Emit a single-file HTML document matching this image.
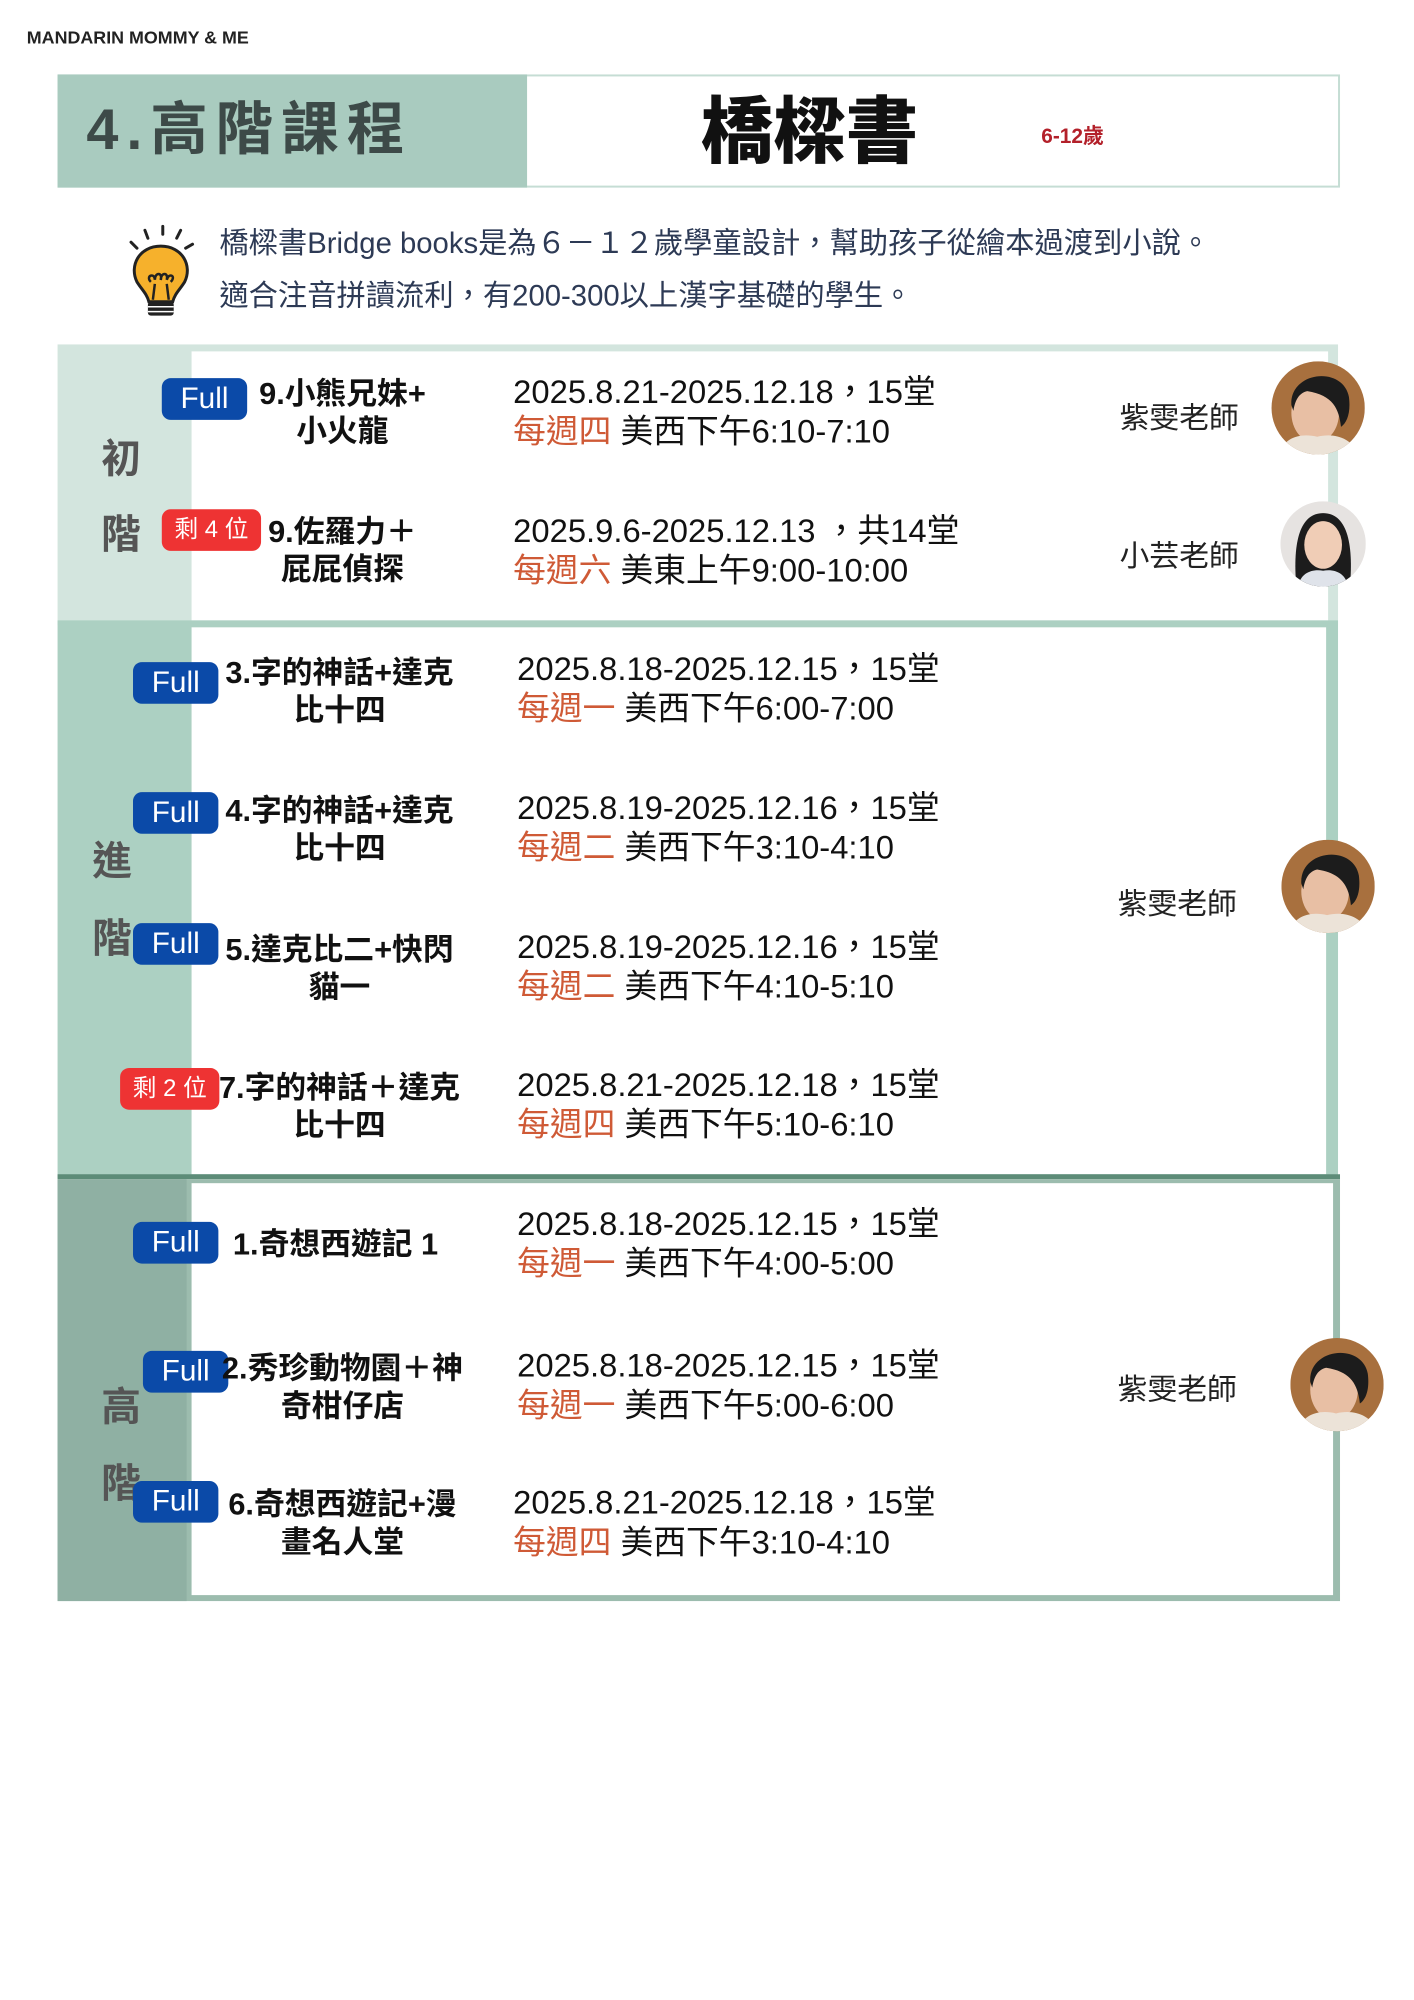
<!DOCTYPE html>
<html><head><meta charset="utf-8">
<style>
*{margin:0;padding:0;box-sizing:border-box}
body{width:1414px;height:2000px;background:#fff;position:relative;overflow:hidden;font-family:"Liberation Sans","Noto Sans CJK TC",sans-serif}
#w{position:absolute;left:0;top:0;width:1414px;height:2000px;transform:scale(0.9926);transform-origin:0 0}
.a{position:absolute;white-space:nowrap}
.badge{position:absolute;height:42px;border-radius:9px;color:#fff;font-size:30px;line-height:42px;text-align:center;font-family:"Liberation Sans","Noto Sans CJK TC",sans-serif}
.full{background:#0b4aa8;width:86px}
.rem{background:#ee3333;font-size:24px;width:100px}
.t{position:absolute;font-weight:700;font-size:31px;line-height:38px;margin-top:-4px;text-align:center;color:#111;transform:translateX(-50%);white-space:nowrap}
.d{position:absolute;font-size:33px;line-height:40px;margin-top:-3px;color:#111;white-space:nowrap}
.d span{color:#cf5a36}
.tc{position:absolute;font-size:30px;color:#222;white-space:nowrap;transform:translateY(-50%)}
.lab{position:absolute;font-weight:700;font-size:40px;color:#555;transform:translate(-50%,-50%)}
.av{position:absolute;border-radius:50%;overflow:hidden}
</style></head><body><div id="w">
<div class="a" style="left:27px;top:28px;font-size:18px;font-weight:700;color:#222">MANDARIN MOMMY &amp; ME</div>

<div class="a" style="left:58px;top:75px;width:1292px;height:114px;border:2px solid #c5ddd4;background:#fff"></div>
<div class="a" style="left:58px;top:75px;width:473px;height:114px;background:#a9cbbf"></div>
<div class="a" style="left:87px;top:96px;font-size:58px;font-weight:700;color:#3d4a48;line-height:70px;letter-spacing:8px">4.高階課程</div>
<div class="a" style="left:706px;top:92px;font-size:73px;font-weight:900;color:#111;line-height:84px">橋樑書</div>
<div class="a" style="left:1049px;top:121px;font-size:21px;font-weight:700;color:#b3202a">6-12歲</div>

<svg class="a" style="left:124px;top:226px" width="76" height="96" viewBox="0 0 76 96">
<g stroke="#222" stroke-width="3" stroke-linecap="round" fill="none">
<line x1="8" y1="18" x2="14" y2="24"/><line x1="22" y1="6" x2="25" y2="14"/><line x1="40" y1="2" x2="40" y2="10"/><line x1="58" y1="6" x2="54" y2="14"/><line x1="70" y1="20" x2="63" y2="24"/>
</g>
<path d="M38 22 C16 22 6 42 14 58 C19 66 24 70 26 78 L50 78 C52 70 57 66 62 58 C70 42 60 22 38 22Z" fill="#f6b12c" stroke="#222" stroke-width="3"/>
<path d="M30 76 L32 60 M46 76 L44 60 M28 58 c-6 -6 4 -10 4 -2 c0 -8 8 -8 6 0 c0 -8 8 -8 6 0 c2 -8 10 -4 4 2" stroke="#222" stroke-width="2.5" fill="none"/>
<rect x="25" y="78" width="26" height="14" rx="3" fill="#222"/>
<line x1="25" y1="83" x2="51" y2="83" stroke="#fff" stroke-width="1.5"/><line x1="25" y1="88" x2="51" y2="88" stroke="#fff" stroke-width="1.5"/>
</svg>
<div class="a" style="left:221px;top:227px;font-size:29.5px;color:#2d3a55;line-height:38px">橋樑書Bridge books是為６－１２歲學童設計，幫助孩子從繪本過渡到小說。</div>
<div class="a" style="left:221px;top:280px;font-size:29.5px;color:#2d3a55;line-height:38px">適合注音拼讀流利，有200-300以上漢字基礎的學生。</div>

<!-- table sections -->
<div class="a" style="left:58px;top:347px;width:1290px;height:283px;background:#d3e5de"></div>
<div class="a" style="left:193px;top:354px;width:1145px;height:271px;background:#fff"></div>
<div class="a" style="left:58px;top:625px;width:1290px;height:562px;background:#acd0c2"></div>
<div class="a" style="left:193px;top:632px;width:1143px;height:551px;background:#fff"></div>
<div class="a" style="left:58px;top:1183px;width:1292px;height:5px;background:#5d8c78"></div>
<div class="a" style="left:58px;top:1188px;width:1292px;height:425px;background:#9cbcae"></div>
<div class="a" style="left:58px;top:1188px;width:130px;height:425px;background:#8fb0a3"></div>
<div class="a" style="left:193px;top:1192px;width:1150px;height:415px;background:#fff"></div>

<div class="lab" style="left:122px;top:459px">初</div><div class="lab" style="left:122px;top:535px">階</div>
<div class="lab" style="left:113px;top:864px">進</div><div class="lab" style="left:113px;top:942px">階</div>
<div class="lab" style="left:122px;top:1414px">高</div><div class="lab" style="left:122px;top:1491px">階</div>

<!-- rows -->
<div class="badge full" style="left:163px;top:381px">Full</div>
<div class="t" style="left:345px;top:382px">9.小熊兄妹+<br>小火龍</div>
<div class="d" style="left:517px;top:378px">2025.8.21-2025.12.18，15堂<br><span>每週四</span> 美西下午6:10-7:10</div>

<div class="badge rem" style="left:163px;top:513px">剩 4 位</div>
<div class="t" style="left:345px;top:521px">9.佐羅力＋<br>屁屁偵探</div>
<div class="d" style="left:517px;top:518px">2025.9.6-2025.12.13 ，共14堂<br><span>每週六</span> 美東上午9:00-10:00</div>

<div class="badge full" style="left:134px;top:667px">Full</div>
<div class="t" style="left:342px;top:663px">3.字的神話+達克<br>比十四</div>
<div class="d" style="left:521px;top:657px">2025.8.18-2025.12.15，15堂<br><span>每週一</span> 美西下午6:00-7:00</div>

<div class="badge full" style="left:134px;top:798px">Full</div>
<div class="t" style="left:342px;top:802px">4.字的神話+達克<br>比十四</div>
<div class="d" style="left:521px;top:797px">2025.8.19-2025.12.16，15堂<br><span>每週二</span> 美西下午3:10-4:10</div>

<div class="badge full" style="left:134px;top:930px">Full</div>
<div class="t" style="left:342px;top:942px">5.達克比二+快閃<br>貓一</div>
<div class="d" style="left:521px;top:937px">2025.8.19-2025.12.16，15堂<br><span>每週二</span> 美西下午4:10-5:10</div>

<div class="badge rem" style="left:121px;top:1076px">剩 2 位</div>
<div class="t" style="left:342px;top:1081px">7.字的神話＋達克<br>比十四</div>
<div class="d" style="left:521px;top:1076px">2025.8.21-2025.12.18，15堂<br><span>每週四</span> 美西下午5:10-6:10</div>

<div class="badge full" style="left:134px;top:1231px">Full</div>
<div class="t" style="left:338px;top:1239px">1.奇想西遊記 1</div>
<div class="d" style="left:521px;top:1216px">2025.8.18-2025.12.15，15堂<br><span>每週一</span> 美西下午4:00-5:00</div>

<div class="badge full" style="left:144px;top:1361px">Full</div>
<div class="t" style="left:345px;top:1364px">2.秀珍動物園＋神<br>奇柑仔店</div>
<div class="d" style="left:521px;top:1359px">2025.8.18-2025.12.15，15堂<br><span>每週一</span> 美西下午5:00-6:00</div>

<div class="badge full" style="left:134px;top:1492px">Full</div>
<div class="t" style="left:345px;top:1501px">6.奇想西遊記+漫<br>畫名人堂</div>
<div class="d" style="left:517px;top:1497px">2025.8.21-2025.12.18，15堂<br><span>每週四</span> 美西下午3:10-4:10</div>

<!-- teachers -->
<div class="tc" style="left:1128px;top:418px">紫雯老師</div>
<div class="tc" style="left:1128px;top:557px">小芸老師</div>
<div class="tc" style="left:1126px;top:908px">紫雯老師</div>
<div class="tc" style="left:1126px;top:1397px">紫雯老師</div>

<svg class="av" style="left:1281px;top:364px" width="94" height="94" viewBox="0 0 94 94"><rect width="94" height="94" fill="#a8703e"/><ellipse cx="44" cy="52" rx="24" ry="30" fill="#e8bfa4"/><path d="M20 44 C18 10 72 4 78 36 C80 52 76 62 70 66 C68 48 62 34 36 30 C28 32 24 38 22 50Z" fill="#1c1c1c"/><path d="M8 94 C12 76 30 72 46 76 C62 72 80 76 88 94Z" fill="#ece3d8"/></svg>
<svg class="av" style="left:1290px;top:505px" width="86" height="86" viewBox="0 0 86 86"><rect width="86" height="86" fill="#e6e3e1"/><path d="M16 86 C12 40 20 12 43 12 C66 12 74 40 70 86Z" fill="#1c1c1c"/><ellipse cx="43" cy="44" rx="19" ry="24" fill="#f0cdb6"/><path d="M18 86 C20 72 32 68 43 70 C54 68 66 72 68 86Z" fill="#dfe3ea"/></svg>
<svg class="av" style="left:1291px;top:846px" width="94" height="94" viewBox="0 0 94 94"><rect width="94" height="94" fill="#a8703e"/><ellipse cx="44" cy="52" rx="24" ry="30" fill="#e8bfa4"/><path d="M20 44 C18 10 72 4 78 36 C80 52 76 62 70 66 C68 48 62 34 36 30 C28 32 24 38 22 50Z" fill="#1c1c1c"/><path d="M8 94 C12 76 30 72 46 76 C62 72 80 76 88 94Z" fill="#ece3d8"/></svg>
<svg class="av" style="left:1300px;top:1348px" width="94" height="94" viewBox="0 0 94 94"><rect width="94" height="94" fill="#a8703e"/><ellipse cx="44" cy="52" rx="24" ry="30" fill="#e8bfa4"/><path d="M20 44 C18 10 72 4 78 36 C80 52 76 62 70 66 C68 48 62 34 36 30 C28 32 24 38 22 50Z" fill="#1c1c1c"/><path d="M8 94 C12 76 30 72 46 76 C62 72 80 76 88 94Z" fill="#ece3d8"/></svg>
</div></body></html>
